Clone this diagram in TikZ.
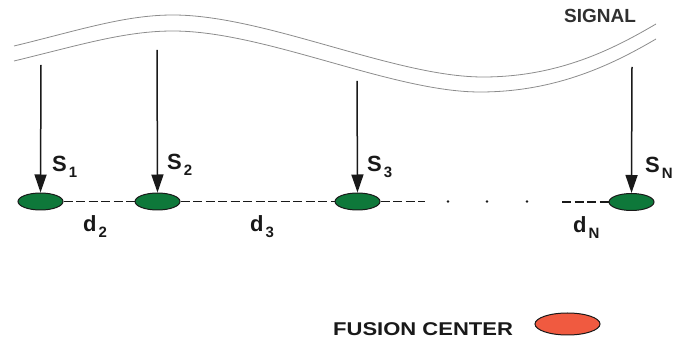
\documentclass[tikz,border=0pt]{standalone}
\usepackage{fontspec}
\setmainfont{Liberation Sans}
\usetikzlibrary{shapes.geometric,arrows.meta}
\definecolor{sensorgreen}{RGB}{14,120,58}
\definecolor{fusionred}{RGB}{240,90,64}
\definecolor{wavegray}{RGB}{140,140,140}
\definecolor{inkblack}{RGB}{25,25,25}
\newcommand{\subf}{\fontsize{15}{15}\selectfont}
\newcommand{\lbl}[2]{#1\hspace{2pt}\raisebox{-5.5pt}{\subf #2}}
\begin{document}
\begin{tikzpicture}[x=1pt,y=-1pt,
  wave/.style={draw=wavegray,line width=0.8pt},
  sensor/.style={ellipse,draw=inkblack,line width=1pt,fill=sensorgreen,minimum width=45pt,minimum height=17pt,inner sep=0pt},
  fusion/.style={ellipse,draw=inkblack,line width=1pt,fill=fusionred,minimum width=65pt,minimum height=22pt,inner sep=0pt},
  sigarrow/.style={draw=inkblack,line width=1.5pt,-{Triangle[length=18pt,width=12pt]}},
  link/.style={draw=inkblack,line width=1.4pt,dash pattern=on 9pt off 3.5pt},
  lab/.style={font=\bfseries\fontsize{22}{22}\selectfont,text=inkblack,inner sep=0pt,anchor=base west},
  dotmark/.style={circle,fill=inkblack,inner sep=0pt,minimum size=2.8pt}
]
\useasboundingbox (0,0) rectangle (678,339);
% signal wave
\draw[wave] (14,46) .. controls (80,30) and (125,15) .. (173,15)
  .. controls (265,15) and (395,77) .. (483,77)
  .. controls (560,77) and (615,48) .. (656,24);
\draw[wave] (14,61) .. controls (80,45) and (125,31) .. (173,31)
  .. controls (265,31) and (392,92) .. (480,92)
  .. controls (558,92) and (615,63) .. (656,39);
\node[inner sep=0pt,anchor=base west,text=inkblack!90,font=\bfseries\fontsize{19}{19}\selectfont] (signal) at (564,23) {SIGNAL};
% sensors
\node[sensor] (s1) at (40.5,201.5) {};
\node[sensor] (s2) at (157.5,201.5) {};
\node[sensor] (s3) at (357.5,201.5) {};
\node[sensor] (sN) at (631.5,202) {};
% arrow origins
\coordinate (a1) at (41,65);
\coordinate (a2) at (157,50);
\coordinate (a3) at (357,81);
\coordinate (aN) at (632,67);
\draw[sigarrow] (a1) -- (s1.north);
\draw[sigarrow] (a2) -- (s2.north);
\draw[sigarrow] (a3) -- (s3.north);
\draw[sigarrow] (aN) -- (sN.north);
% links
\coordinate (c1) at (425,201.5);
\coordinate (c2) at (562,202);
\draw[link] (s1.east) -- (s2.west);
\draw[link] (s2.east) -- (s3.west);
\draw[link] (s3.east) -- (c1);
\draw[link] (c2) -- (sN.west);
\node[dotmark] (dot1) at (448,201.5) {};
\node[dotmark] (dot2) at (487,201.5) {};
\node[dotmark] (dot3) at (527,201.5) {};
% labels
\node[lab] (l1) at (52,172) {\lbl{S}{1}};
\node[lab] (l2) at (167,170) {\lbl{S}{2}};
\node[lab] (l3) at (367,172) {\lbl{S}{3}};
\node[lab] (lN) at (645,173) {\lbl{S}{N}};
\node[lab] (d2) at (83,232) {\lbl{d}{2}};
\node[lab] (d3) at (250,232) {\lbl{d}{3}};
\node[lab] (dN) at (573,233) {\lbl{d}{N}};
% fusion center
\node[inner sep=0pt,anchor=base west,text=inkblack,font=\bfseries\fontsize{18.5}{18.5}\selectfont] (fclabel) at (333,335) {\scalebox{1.19}[1]{FUSION CENTER}};
\node[fusion] (fc) at (567.5,324) {};
\end{tikzpicture}
\end{document}
